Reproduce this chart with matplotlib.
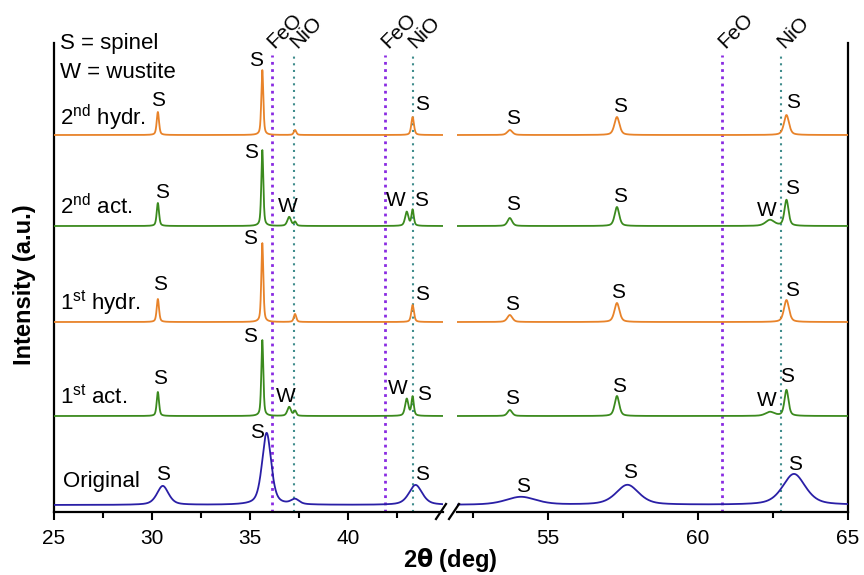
import numpy as np
import matplotlib.pyplot as plt
from matplotlib.lines import Line2D

plt.rcParams['font.family'] = ['Liberation Sans', 'DejaVu Sans']
plt.rcParams['mathtext.fontset'] = 'custom'
plt.rcParams['mathtext.rm'] = 'Liberation Sans'

# --- data ---
# sample names, bottom to top, and vertical offset of each trace (a.u.)
samples = ['Original', r'1$^{\rm st}$ act.', r'1$^{\rm st}$ hydr.',
           r'2$^{\rm nd}$ act.', r'2$^{\rm nd}$ hydr.']
offsets = [7, 96, 190, 286, 377]
colors = ['#2A1FA6', '#3B8A1E', '#E8832A', '#3B8A1E', '#E8832A']

# peaks: position (deg), height (a.u.), FWHM (deg)
orig_pos = [30.55, 35.85, 37.3, 43.45, 54.1, 57.65, 63.2]
orig_h = [19, 72, 5, 20, 8, 20, 31]
orig_w = [0.7, 0.55, 0.5, 0.8, 1.2, 0.9, 0.9]

act_pos = [30.3, 35.63, 37.0, 37.3, 43.0, 43.3, 53.73, 57.3, 62.4, 62.95]
act_w = [0.14, 0.12, 0.22, 0.15, 0.2, 0.14, 0.18, 0.18, 0.35, 0.16]
act1_h = [24, 76, 9, 5, 17, 19, 6, 20, 4, 26]
act2_h = [23, 76, 9, 4, 14, 16, 8, 19, 6, 26]

hydr_pos = [30.3, 35.63, 37.3, 43.3, 53.73, 57.3, 62.95]
hydr_w = [0.14, 0.12, 0.15, 0.16, 0.2, 0.2, 0.2]
hydr1_h = [23, 79, 8, 17, 7, 19, 22]
hydr2_h = [23, 65, 5, 18, 5, 18, 20]

peaks = [(orig_pos, orig_h, orig_w), (act_pos, act1_h, act_w),
         (hydr_pos, hydr1_h, hydr_w), (act_pos, act2_h, act_w),
         (hydr_pos, hydr2_h, hydr_w)]

# reference lines
feo_lines = [36.1, 41.9, 60.8]
nio_lines = [37.25, 43.3, 62.77]

# peak labels (x, y, text)
labels_left = [
    (30.3, 412, 'S'), (35.3, 452, 'S'), (43.78, 407, 'S'),
    (30.5, 319, 'S'), (35.05, 360, 'S'), (36.94, 305, 'W'), (42.45, 312, 'W'), (43.72, 311, 'S'),
    (30.4, 227, 'S'), (35.0, 274, 'S'), (43.78, 217, 'S'),
    (30.4, 134, 'S'), (35.0, 175, 'S'), (36.84, 115, 'W'), (42.55, 124, 'W'), (43.88, 117, 'S'),
    (30.56, 38, 'S'), (35.36, 79, 'S'), (43.78, 38, 'S'),
]
labels_right = [
    (53.83, 394, 'S'), (57.4, 406, 'S'), (63.17, 409, 'S'),
    (53.83, 308, 'S'), (57.4, 316, 'S'), (62.3, 301, 'W'), (63.13, 323, 'S'),
    (53.8, 207, 'S'), (57.33, 219, 'S'), (63.13, 222, 'S'),
    (53.8, 114, 'S'), (57.37, 126, 'S'), (62.3, 111, 'W'), (62.97, 135, 'S'),
    (54.17, 26, 'S'), (57.73, 39, 'S'), (63.23, 47, 'S'),
]
name_y = [30, 115, 209, 305, 394]


def pattern(x, pos, h, w):
    y = np.zeros_like(x)
    for c, a, f in zip(pos, h, w):
        hw = f / 2
        lor = 1 / (1 + ((x - c) / hw) ** 2)
        gau = np.exp(-np.log(2) * ((x - c) / hw) ** 2)
        y += a * (0.5 * lor + 0.5 * gau)
    return y


fig = plt.figure(figsize=(8.64, 5.75), dpi=100)
W, H = 864, 575
bot, top = 512, 43
ax1 = fig.add_axes([54 / W, (H - bot) / H, (443 - 54) / W, (bot - top) / H])
ax2 = fig.add_axes([457 / W, (H - bot) / H, (848 - 457) / W, (bot - top) / H])

xl = np.linspace(25, 44.85, 4000)
xr = np.linspace(51.97, 65, 4000)

for ax, xx in ((ax1, xl), (ax2, xr)):
    for off, col, (p, h, w) in zip(offsets, colors, peaks):
        ax.plot(xx, off + pattern(xx, p, h, w), color=col, lw=1.3, zorder=3)
    for xv in feo_lines:
        ax.plot([xv, xv], [0, 457], color='#8A2BE2', lw=2, ls=(0, (1, 1.6)), zorder=2)
    for xv in nio_lines:
        ax.plot([xv, xv], [0, 457], color='#3F8C8C', lw=1.5, ls=(0, (1, 2.2)), zorder=2)
    ax.set_ylim(0, 469)
    ax.set_yticks([])
    ax.spines['top'].set_visible(False)
    for s in ax.spines.values():
        s.set_linewidth(1.6)
    ax.tick_params(axis='x', direction='out', length=6, width=1.5, labelsize=15, pad=6)
    ax.tick_params(axis='x', which='minor', direction='out', length=4, width=1.5)

ax1.set_xlim(25, 44.85)
ax1.set_xticks([25, 30, 35, 40])
ax1.set_xticks([27.5, 32.5, 37.5, 42.5], minor=True)
ax1.spines['right'].set_visible(False)

ax2.set_xlim(51.97, 65)
ax2.set_xticks([55, 60, 65])
ax2.set_xticks([52.5, 57.5, 62.5], minor=True)
ax2.spines['left'].set_visible(False)

for x, y, t in labels_left:
    ax1.text(x, y, t, fontsize=15, ha='center', va='center')
for x, y, t in labels_right:
    ax2.text(x, y, t, fontsize=15, ha='center', va='center')

for name, y in zip(samples, name_y):
    ax1.text(25.3 if name != 'Original' else 25.45, y, name, fontsize=16, ha='left', va='center')

ax1.text(25.3, 469, 'S = spinel', fontsize=16, ha='left', va='center')
ax1.text(25.3, 440, 'W = wustite', fontsize=16, ha='left', va='center')

# phase markers above the dotted lines
for ax, xs, dx in ((ax1, feo_lines[:2], 0.3), (ax2, feo_lines[2:], 0.2)):
    for xv in xs:
        ax.text(xv + dx, 460, 'FeO', fontsize=15, rotation=45, rotation_mode='anchor',
                ha='left', va='bottom')
for ax, xs, dx in ((ax1, nio_lines[:2], 0.3), (ax2, nio_lines[2:], 0.2)):
    for xv in xs:
        ax.text(xv + dx, 460, 'NiO', fontsize=15, rotation=45, rotation_mode='anchor',
                ha='left', va='bottom')

# axis break marks
for x0 in (436, 449):
    fig.add_artist(Line2D([x0 / W, (x0 + 10) / W], [(H - 519) / H, (H - 504) / H],
                          color='black', lw=1.6))

fig.text(450 / W, 1 - 560 / H, r'2$\mathbf{\theta}$ (deg)', fontsize=17, fontweight='bold',
         ha='center', va='center')
fig.text(25 / W, 1 - 285 / H, 'Intensity (a.u.)', fontsize=17, fontweight='bold',
         rotation=90, ha='center', va='center')

fig.savefig('out.png', dpi=100)
